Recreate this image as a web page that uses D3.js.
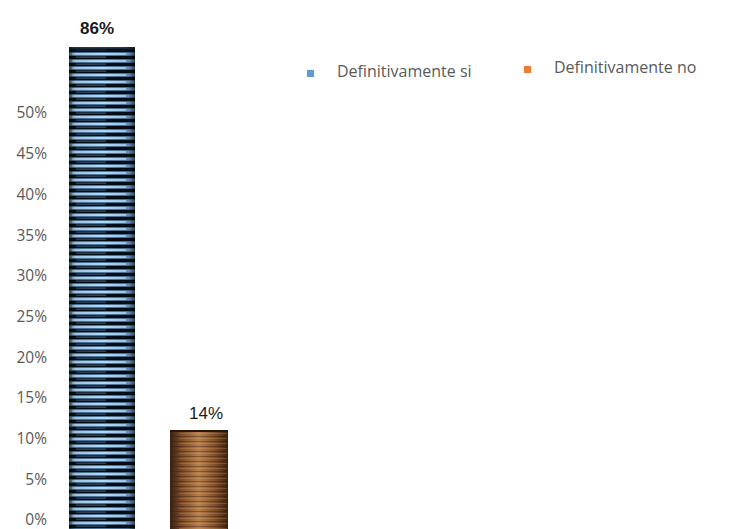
<!DOCTYPE html>
<html><head><meta charset="utf-8">
<script src="https://cdn.jsdelivr.net/npm/d3@7"></script>
<style>body{margin:0;background:#fff}svg{display:block}</style>
</head><body>
<svg id="c" width="754" height="529"></svg>
<script>
const categories = ["Definitivamente si", "Definitivamente no"];
const values = [0.86, 0.14];
const valueLabels = ["86%", "14%"];
const tickValues = [0, 0.05, 0.10, 0.15, 0.20, 0.25, 0.30, 0.35, 0.40, 0.45, 0.50];
const legendColors = ["#5b9bd5", "#ed7d31"];

const svg = d3.select("#c");
const W = 754, H = 529;

// axis scale (ticks)
const yAxisScale = d3.scaleLinear().domain([0, 0.5]).range([520, 113]);
// bar scale (as drawn in the picture)
const yBar = d3.scaleLinear().domain([0, 0.14]).range([529, 430]);
const x = d3.scaleOrdinal().domain(categories).range([69, 170]);
const widths = [66, 58];

const defs = svg.append("defs");
defs.append("filter").attr("id", "soft").append("feGaussianBlur").attr("stdDeviation", 0.6);
// blue striped texture
const pb = defs.append("pattern").attr("id", "pblue").attr("patternUnits", "userSpaceOnUse")
  .attr("x", 0).attr("y", 3).attr("width", 66).attr("height", 7);
pb.append("rect").attr("width", 66).attr("height", 7).attr("fill", "#060c14");
pb.append("rect").attr("y", 0.3).attr("width", 66).attr("height", 3.4).attr("fill", "#6fa3d2");
pb.append("rect").attr("y", 1.0).attr("x", 6).attr("width", 54).attr("height", 2).attr("fill", "#b0d8f8");
pb.append("rect").attr("y", 4.6).attr("x", 10).attr("width", 30).attr("height", 1).attr("fill", "#3d6488");
const gb = defs.append("linearGradient").attr("id", "gblue").attr("x1", 0).attr("x2", 1);
[[0, "#000", 0.5], [0.1, "#000", 0.1], [0.5, "#000", 0], [0.9, "#000", 0.1], [1, "#000", 0.6]]
  .forEach(s => gb.append("stop").attr("offset", s[0]).attr("stop-color", s[1]).attr("stop-opacity", s[2]));
// brown texture
const gbr = defs.append("linearGradient").attr("id", "gbrown").attr("x1", 0).attr("x2", 1);
[[0, "#3a2210"], [0.2, "#7a4a26"], [0.5, "#b8804e"], [0.8, "#7a4a26"], [1, "#3a2210"]]
  .forEach(s => gbr.append("stop").attr("offset", s[0]).attr("stop-color", s[1]));
const pbr = defs.append("pattern").attr("id", "pbrown").attr("patternUnits", "userSpaceOnUse")
  .attr("width", 58).attr("height", 5);
pbr.append("rect").attr("y", 1).attr("width", 58).attr("height", 1).attr("fill", "#2a1506").attr("opacity", 0.35);
pbr.append("rect").attr("y", 3).attr("x", 5).attr("width", 48).attr("height", 1).attr("fill", "#e0a870").attr("opacity", 0.25);

defs.append("clipPath").attr("id", "clip").append("rect")
  .attr("x", 0).attr("y", 47).attr("width", W).attr("height", H - 47);

// axis labels
const ax = svg.append("g").attr("transform", "translate(47,0)")
  .call(d3.axisLeft(yAxisScale).tickValues(tickValues).tickFormat(d3.format(".0%")).tickSize(0).tickPadding(0));
ax.select(".domain").remove();
ax.selectAll("text").attr("fill", "#595959").attr("font-family", "'Open Sans', 'DejaVu Sans', sans-serif")
  .attr("font-size", 15.5);

// bars
const bars = svg.append("g").attr("clip-path", "url(#clip)");
const fills = [["url(#pblue)", "url(#gblue)"], ["url(#gbrown)", "url(#pbrown)"]];
categories.forEach((c, i) => {
  const bx = x(c), bw = widths[i];
  const top = yBar(values[i]);
  const h = yBar(0) - top;
  const g = bars.append("g").attr("filter", i === 0 ? "url(#soft)" : null);
  fills[i].forEach(f => {
    g.append("rect").attr("x", bx).attr("y", top).attr("width", bw).attr("height", h).attr("fill", f);
  });
});
// brown top edge
svg.append("rect").attr("x", x(categories[1])).attr("y", yBar(values[1])).attr("width", widths[1]).attr("height", 2).attr("fill", "#2a1506");
// blue top shadow
svg.append("rect").attr("x", x(categories[0])).attr("y", 47).attr("width", widths[0]).attr("height", 4).attr("fill", "#0b1420").attr("opacity", 0.8);

// value labels
const labelPos = [{dx: -5, y: 34, w: "bold"}, {dx: 7, y: 419, w: "normal"}];
categories.forEach((c, i) => {
  svg.append("text").attr("x", x(c) + widths[i] / 2 + labelPos[i].dx).attr("y", labelPos[i].y)
    .attr("text-anchor", "middle").attr("font-family", "'Liberation Sans', Arial, sans-serif")
    .attr("font-size", 17).attr("font-weight", labelPos[i].w).attr("fill", "#1a1a1a").text(valueLabels[i]);
});

// legend
const legX = [307, 524], legY = [70, 66];
categories.forEach((c, i) => {
  svg.append("rect").attr("x", legX[i]).attr("y", legY[i]).attr("width", 7).attr("height", 7).attr("fill", legendColors[i]);
  svg.append("text").attr("x", legX[i] + 30).attr("y", legY[i] + 7)
    .attr("font-family", "'Open Sans', 'DejaVu Sans', sans-serif").attr("font-size", 16)
    .attr("fill", "#595959").text(c);
});
</script>
</body></html>
